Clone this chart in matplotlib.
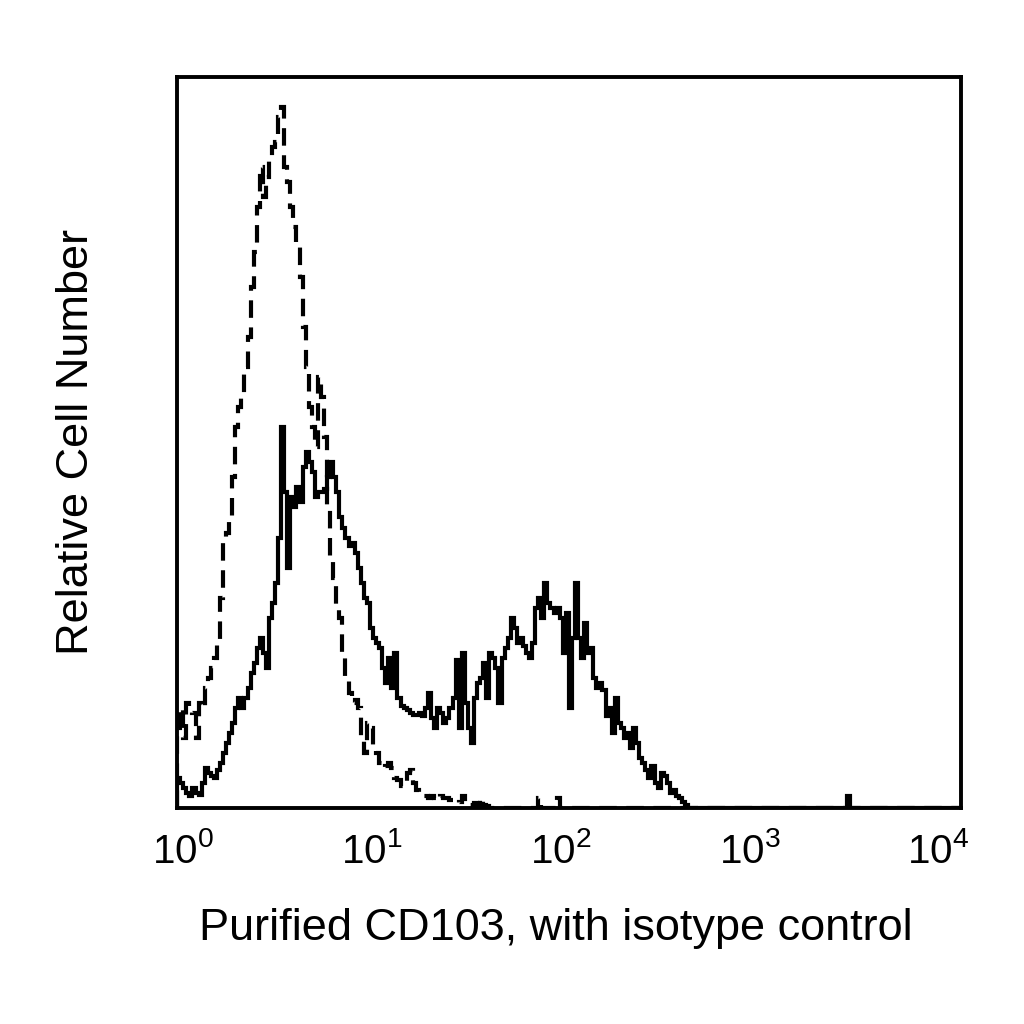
import numpy as np
import matplotlib
matplotlib.use("Agg")
import matplotlib.pyplot as plt
import matplotlib.transforms as mtransforms
from matplotlib.ticker import LogFormatterSciNotation, NullLocator

plt.rcParams['font.family'] = ['Liberation Sans', 'DejaVu Sans']
plt.rcParams['mathtext.fontset'] = 'custom'
plt.rcParams['mathtext.rm'] = 'Liberation Sans'
plt.rcParams['mathtext.it'] = 'Liberation Sans'

# 256 log channels over 4 decades (64 channels per decade)
n_channels = 256
channels_per_decade = 64
decades = [1, 10, 100, 1000, 10000]

# CD103 stained cells (solid), counts per channel from channel 0
cd103 = [30, 25, 20, 15, 12, 20, 15, 13, 25, 40,
         35, 32, 30, 38, 45, 55, 65, 75, 85, 100,
         110, 100, 110, 120, 135, 145, 160, 170, 155, 140,
         190, 205, 225, 270, 380, 315, 240, 310, 300, 320,
         305, 340, 355, 345, 335, 310, 315, 315, 318, 330,
         345, 330, 315, 290, 280, 270, 262, 265, 255, 240,
         225, 210, 205, 180, 170, 165, 160, 140, 125, 150,
         120, 155, 110, 102, 100, 98, 95, 93, 93, 95,
         92, 100, 115, 90, 80, 100, 95, 85, 90, 100,
         110, 148, 80, 155, 105, 80, 65, 110, 125, 130,
         145, 110, 155, 150, 140, 105, 150, 160, 170, 190,
         180, 165, 170, 162, 155, 150, 165, 200, 210, 190,
         225, 205, 200, 195, 200, 190, 155, 195, 100, 170,
         225, 170, 150, 185, 155, 160, 130, 120, 125, 118,
         92, 100, 75, 110, 85, 80, 70, 75, 60, 80,
         65, 50, 45, 38, 30, 42, 25, 20, 35, 32,
         25, 15, 18, 12, 10, 6, 3]
cd103_outlier = {219: 12}

# isotype control (dashed), counts per channel from channel 0
isotype = [80, 100, 70, 105, 100, 95, 70, 105, 100, 120,
           130, 140, 150, 165, 210, 270, 275, 290, 330, 380,
           400, 410, 440, 470, 520, 555, 600, 640, 610, 630,
           650, 660, 665, 690, 700, 640, 625, 600, 580, 560,
           530, 480, 440, 400, 380, 360, 430, 410, 370, 300,
           250, 230, 200, 190, 155, 130, 115, 105, 108, 100,
           70, 55, 85, 80, 60, 55, 45, 40, 42, 45,
           40, 30, 28, 22, 22, 35, 38, 25, 18, 15,
           12, 12, 10, 12, 10, 8, 12, 10, 10, 8,
           5, 5, 6, 12, 5, 3, 3, 5, 3, 10,
           3, 2]
isotype_outlier = {118: 10, 124: 10}


def full_counts(values, extra):
    counts = np.zeros(n_channels)
    counts[:len(values)] = values
    for ch, v in extra.items():
        counts[ch] = v
    return counts


edges = 10.0 ** (np.arange(n_channels + 1) / channels_per_decade)

fig = plt.figure(figsize=(10.24, 10.24), dpi=100)
ax = fig.add_axes([0.173, 0.211, 0.765, 0.714])

ax.stairs(full_counts(isotype, isotype_outlier), edges, color='black',
          linewidth=3.0, linestyle=(0, (4.2, 2.3)))
ax.stairs(full_counts(cd103, cd103_outlier), edges, color='black',
          linewidth=3.0)

ax.set_xscale('log')
ax.set_xlim(decades[0], decades[-1])
ax.set_ylim(0, 730)
ax.set_xticks(decades)
ax.xaxis.set_major_formatter(LogFormatterSciNotation())
ax.xaxis.set_minor_locator(NullLocator())
ax.yaxis.set_major_locator(NullLocator())
ax.tick_params(axis='x', length=0, pad=17, labelsize=29)

for spine in ax.spines.values():
    spine.set_linewidth(2.8)

ax.set_xlabel('Purified CD103, with isotype control', fontsize=32.5, labelpad=27)
ax.set_ylabel('Relative Cell Number', fontsize=32.5, labelpad=58)

# the original's decade labels sit slightly closer together than the decades
fig.canvas.draw()
for i, lab in enumerate(ax.get_xticklabels()):
    shift = mtransforms.ScaledTranslation((6 - 7 * i) / 100, 0, fig.dpi_scale_trans)
    lab.set_transform(lab.get_transform() + shift)
ax.xaxis.label.set_transform(ax.xaxis.label.get_transform() +
                             mtransforms.ScaledTranslation(-0.13, 0, fig.dpi_scale_trans))

fig.savefig('out.png', dpi=100, facecolor='white')
